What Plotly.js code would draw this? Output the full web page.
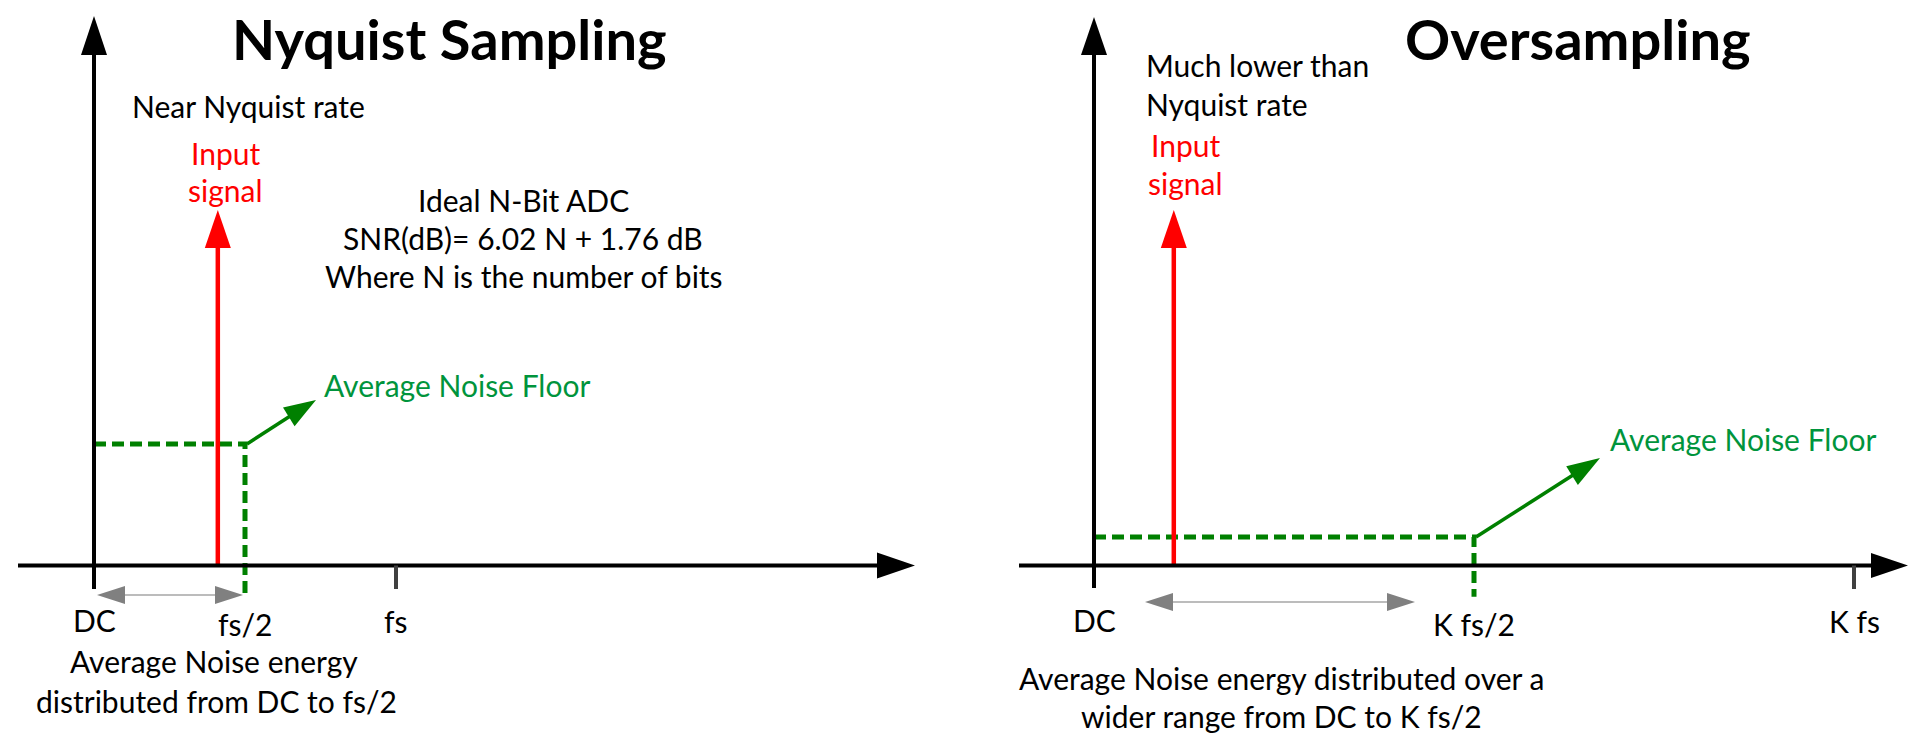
<!DOCTYPE html>
<html><head><meta charset="utf-8">
<script src="https://cdn.plot.ly/plotly-3.0.1.min.js"></script>
<style>html,body{margin:0;padding:0;background:#fff;overflow:hidden}#chart{width:1909px;height:733px}</style>
</head><body><div id="chart"></div>
<script>
// ---------------- data ----------------
const panelTitles = ['Nyquist Sampling', 'Oversampling'];
const rateNotes = [['Near Nyquist rate'], ['Much lower than', 'Nyquist rate']];
const tickValues = [0, 0.5, 1];                       // DC, (K) fs/2, (K) fs
const tickLabelsNyquist = ['DC', 'fs/2', 'fs'];
const tickLabelsOversampling = ['DC', 'K fs/2', 'K fs'];
const signalFreq = [0.41, 0.105];                     // fraction of (K) fs
const signalLevel = [10, 10];
const noiseBandEdge = [0.5, 0.5];                     // (K) fs/2
const noiseLevel = [3.42, 0.80];
const noiseMarkerBottom = [-0.83, -0.88];
const adcNotes = ['Ideal N-Bit ADC', 'SNR(dB)= 6.02 N + 1.76 dB', 'Where N is the number of bits'];
const energyNotes = [['Average Noise energy', 'distributed from DC to fs/2'],
                     ['Average Noise energy distributed over a', 'wider range from DC to K fs/2']];
const floorLabel = 'Average Noise Floor';
const signalLabel = ['Input', 'signal'];

// ---------------- layout constants ----------------
const W = 1909, H = 733;
const FONT = 'Lato, "Open Sans", sans-serif';
const Y_ZERO_PX = 565.5, Y_UNIT_PX = 35.55;
const X_ZERO_PX = [94, 1094], X_UNIT_PX = [302, 760];
const XAX = ['x', 'x2'];
const RED = '#ff0000', GREEN = '#008000', GREEN_TXT = '#00943c', GRAY_L = '#a6a6a6', GRAY_H = '#808080';

function xRange(i) { return [-X_ZERO_PX[i] / X_UNIT_PX[i], (W - X_ZERO_PX[i]) / X_UNIT_PX[i]]; }

// ---------------- traces ----------------
const traces = [];
for (let i = 0; i < 2; i++) {
  traces.push({
    type: 'scatter', mode: 'lines', xaxis: XAX[i], yaxis: 'y', hoverinfo: 'skip',
    x: [tickValues[0], noiseBandEdge[i], noiseBandEdge[i]],
    y: [noiseLevel[i], noiseLevel[i], noiseMarkerBottom[i]],
    line: {color: GREEN, width: 5, dash: '12px,6px'}
  });
  traces.push({
    type: 'scatter', mode: 'lines', xaxis: XAX[i], yaxis: 'y', hoverinfo: 'skip',
    x: [signalFreq[i], signalFreq[i]],
    y: [0, signalLevel[i] - 30 / Y_UNIT_PX],
    line: {color: RED, width: 4.5}
  });
}

// ---------------- shapes ----------------
const shapes = [];
function head(xref, xa, ya, tx, ty, dx, dy, len, hw, color) {
  const n = Math.hypot(dx, dy); dx /= n; dy /= n;
  const bx = tx - dx * len, by = ty - dy * len;
  const px = -dy * hw, py = dx * hw;
  shapes.push({
    type: 'path', xref: xref, yref: 'y', xsizemode: 'pixel', ysizemode: 'pixel',
    xanchor: xa, yanchor: ya,
    path: `M${tx},${ty}L${bx + px},${by + py}L${bx - px},${by - py}Z`,
    fillcolor: color, line: {width: 0}
  });
}
function pline(xref, xa, ya, x0, y0, x1, y1, color, width) {
  shapes.push({
    type: 'line', xref: xref, yref: 'y', xsizemode: 'pixel', ysizemode: 'pixel',
    xanchor: xa, yanchor: ya, x0: x0, y0: y0, x1: x1, y1: y1,
    line: {color: color, width: width}
  });
}

const axisGeom = [
  {xl: -76, xt: 821, xlen: 38, xhw: 13, yb: -23.5, yt: 549.5, ylen: 39, yhw: 13},
  {xl: -75, xt: 814, xlen: 37, xhw: 12.5, yb: -22.5, yt: 548.5, ylen: 38, yhw: 13}
];
const pointerGeom = [{tx: 71, ty: 44, len: 32, hw: 11}, {tx: 126, ty: 79, len: 33, hw: 11}];
const spanGeom = [{a: 3, b: 149, y: -29.5}, {a: 51, b: 321, y: -36.5}];

for (let i = 0; i < 2; i++) {
  const xr = XAX[i], g = axisGeom[i];
  // x axis
  pline(xr, 0, 0, g.xl, 0, g.xt - g.xlen + 6, 0, '#000', 4);
  head(xr, 0, 0, g.xt, 0, 1, 0, g.xlen, g.xhw, '#000');
  // y axis
  pline(xr, 0, 0, 0, g.yb, 0, g.yt - g.ylen + 6, '#000', 4);
  head(xr, 0, 0, 0, g.yt, 0, 1, g.ylen, g.yhw, '#000');
  // fs tick
  pline(xr, tickValues[2], 0, 0, 0, 0, -23.5, '#404040', 4);
  // signal arrow head
  head(xr, signalFreq[i], signalLevel[i], 0, 0, 0, 1, 38, 13, RED);
  // noise-floor pointer
  const p = pointerGeom[i];
  const n = Math.hypot(p.tx, p.ty);
  pline(xr, noiseBandEdge[i], noiseLevel[i], 2, 0, p.tx - p.tx / n * (p.len - 4), p.ty - p.ty / n * (p.len - 4), GREEN, 3.5);
  head(xr, noiseBandEdge[i], noiseLevel[i], p.tx, p.ty, p.tx, p.ty, p.len, p.hw, GREEN);
  // noise span double arrow
  const s = spanGeom[i];
  pline(xr, 0, 0, s.a + 24, s.y, s.b - 24, s.y, GRAY_L, 1.6);
  head(xr, 0, 0, s.a, s.y, -1, 0, 28, 9, GRAY_H);
  head(xr, 0, 0, s.b, s.y, 1, 0, 28, 9, GRAY_H);
}

// ---------------- annotations ----------------
const annotations = [];
function T(text, px, base, size, color, xanchor, extra) {
  annotations.push(Object.assign({
    text: text, xref: 'paper', yref: 'paper', x: px / W, y: 1 - (base - 0.387 * size) / H,
    xanchor: xanchor || 'center', yanchor: 'middle', showarrow: false, borderpad: 0,
    font: {family: FONT, size: size, color: color || '#000'}
  }, extra || {}));
}
const BODY = 30, TITLE = 56;
// left panel
T('<b>' + panelTitles[0] + '</b>', 449, 60, TITLE);
T(rateNotes[0][0], 131, 118, BODY, '#000', 'left');
T(signalLabel[0], 225, 165, BODY, RED);
T(signalLabel[1], 225, 202, BODY, RED);
T(adcNotes[0], 523, 212, BODY);
T(adcNotes[1], 523, 250, BODY);
T(adcNotes[2], 524, 288, BODY);
T(floorLabel, 323, 397, BODY, GREEN_TXT, 'left');
T(energyNotes[0][0], 214, 673, BODY);
T(energyNotes[0][1], 216, 713, BODY);
// right panel
T('<b>' + panelTitles[1] + '</b>', 1578, 60, TITLE);
T(rateNotes[1][0], 1145, 77, BODY, '#000', 'left');
T(rateNotes[1][1], 1145, 116, BODY, '#000', 'left');
T(signalLabel[0], 1185, 157, BODY, RED);
T(signalLabel[1], 1185, 195, BODY, RED);
T(floorLabel, 1609, 451, BODY, GREEN_TXT, 'left');
T(energyNotes[1][0], 1281, 690, BODY);
T(energyNotes[1][1], 1281, 728, BODY);

// tick labels, placed at the data positions
const tickSets = [tickLabelsNyquist, tickLabelsOversampling];
const tickBase = [632, 636, 633];
for (let i = 0; i < 2; i++) {
  tickSets[i].forEach((lab, k) => {
    annotations.push({
      text: lab, xref: XAX[i], yref: 'paper', x: tickValues[k],
      y: 1 - (tickBase[k] - 0.387 * BODY) / H, xanchor: 'center', yanchor: 'middle',
      showarrow: false, borderpad: 0, font: {family: FONT, size: BODY, color: '#000'}
    });
  });
}

const layout = {
  width: W, height: H, margin: {l: 0, r: 0, t: 0, b: 0, pad: 0},
  paper_bgcolor: '#fff', plot_bgcolor: '#fff', showlegend: false,
  xaxis: {domain: [0, 1], range: xRange(0), visible: false, fixedrange: true},
  xaxis2: {domain: [0, 1], range: xRange(1), visible: false, fixedrange: true, overlaying: 'x', anchor: 'y'},
  yaxis: {domain: [0, 1], range: [(Y_ZERO_PX - H) / Y_UNIT_PX, Y_ZERO_PX / Y_UNIT_PX], visible: false, fixedrange: true},
  shapes: shapes, annotations: annotations
};
Plotly.newPlot('chart', traces, layout, {staticPlot: true, displayModeBar: false});
</script></body></html>
